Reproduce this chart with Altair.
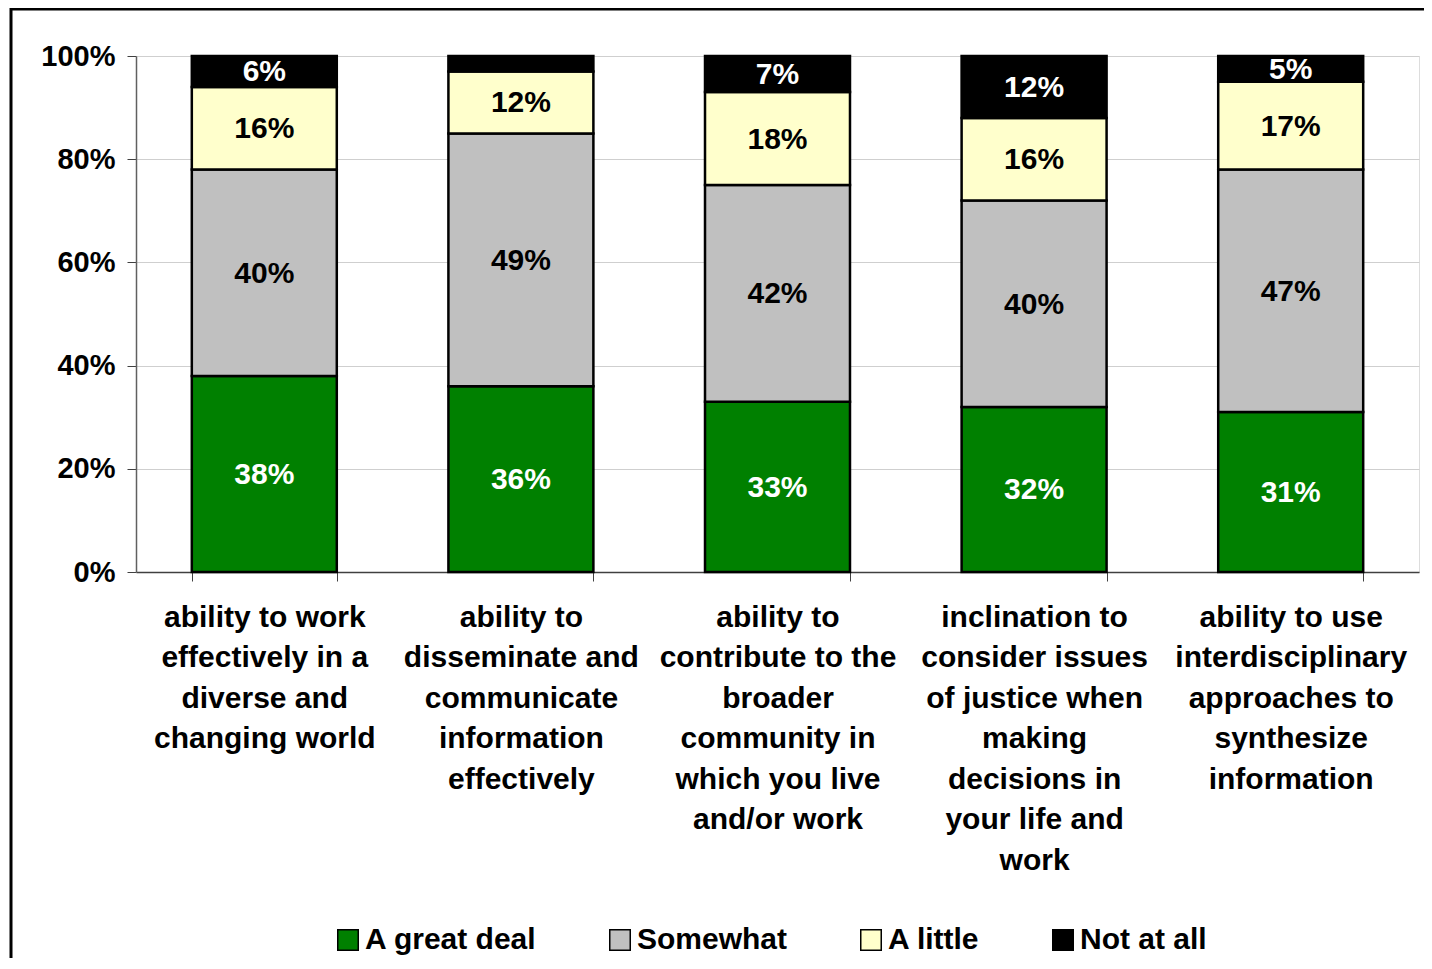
import altair as alt
import pandas as pd

categories = [
    "ability to work|effectively in a|diverse and|changing world",
    "ability to|disseminate and|communicate|information|effectively",
    "ability to|contribute to the|broader|community in|which you live|and/or work",
    "inclination to|consider issues|of justice when|making|decisions in|your life and|work",
    "ability to use|interdisciplinary|approaches to|synthesize|information",
]
responses = ["A great deal", "Somewhat", "A little", "Not at all"]
great_deal = [38, 36, 33, 32, 31]
somewhat = [40, 49, 42, 40, 47]
a_little = [16, 12, 18, 16, 17]
not_at_all = [6, 3, 7, 12, 5]
colors = ["#008000", "#c0c0c0", "#ffffcc", "#000000"]
label_colors = ["white", "black", "black", "white"]

rows = []
for series_i, (resp, vals) in enumerate(zip(responses, [great_deal, somewhat, a_little, not_at_all])):
    for cat, v in zip(categories, vals):
        rows.append({"category": cat, "response": resp, "order": series_i, "value": v,
                     "lcolor": label_colors[series_i]})
df = pd.DataFrame(rows)

FONT = "Liberation Sans"

base = alt.Chart(df).transform_stack(
    stack="value", groupby=["category"], sort=[alt.SortField("order")], as_=["y0", "y1"]
).transform_calculate(mid="(datum.y0 + datum.y1) / 2")

x_enc = alt.X(
    "category:N", sort=categories, title=None,
    scale=alt.Scale(paddingInner=0.435, paddingOuter=0.2175),
    axis=alt.Axis(labelExpr="split(datum.label, '|')", labelAngle=0, labelFontSize=30,
                  labelFont=FONT, labelFontWeight="bold", labelColor="black",
                  labelLineHeight=40.5, labelPadding=21, labelLimit=0, tickBand="extent",
                  tickSize=9, tickColor="#404040", domainColor="#404040", domainWidth=1.5,
                  labelBaseline="top"),
)

bars = base.mark_bar(stroke="black", strokeWidth=2.5, opacity=1).encode(
    x=x_enc,
    y=alt.Y("y0:Q", title=None, scale=alt.Scale(domain=[0, 100], nice=False),
            axis=alt.Axis(values=[0, 20, 40, 60, 80, 100], labelExpr="datum.value + '%'",
                          labelFontSize=29, labelFont=FONT, labelFontWeight="bold",
                          labelColor="black", tickSize=9, tickColor="#404040",
                          domainColor="#606060", domainWidth=1.5, labelPadding=12,
                          gridColor="#cfcfcf", gridWidth=1)),
    y2="y1:Q",
    color=alt.Color("response:N", sort=responses,
                    scale=alt.Scale(domain=responses, range=colors),
                    legend=alt.Legend(title=None, orient="none", legendX=197, legendY=869,
                                      direction="horizontal", symbolType="square",
                                      symbolSize=420, symbolStrokeColor="black",
                                      symbolStrokeWidth=1.5, symbolOpacity=1,
                                      labelFontSize=30, labelFont=FONT, labelFontWeight="bold",
                                      labelColor="black", labelOffset=2, columnPadding=68,
                                      labelLimit=0)),
    order=alt.Order("order:Q"),
)

labels = base.transform_filter("datum.value >= 4").mark_text(
    fontSize=30, font=FONT, fontWeight="bold", baseline="middle", align="center", dy=1
).encode(
    x=alt.X("category:N", sort=categories),
    y=alt.Y("mid:Q"),
    text=alt.Text("label:N"),
    color=alt.Color("lcolor:N", scale=None),
).transform_calculate(label="datum.value + '%'")

frame = alt.Chart(pd.DataFrame({"k": [0]})).mark_rect(
    fill=None, stroke="black", strokeWidth=3, clip=False
).encode(x=alt.value(-125), x2=alt.value(1400), y=alt.value(-47), y2=alt.value(1000))

chart = alt.layer(bars, labels, frame).properties(
    width=1283, height=516,
    padding={"left": 128, "top": 48, "right": 5, "bottom": 386},
    autosize=alt.AutoSizeParams(type="none"),
).configure_view(stroke="#808080", strokeWidth=1.5).configure(background="white")

chart.save("out.html", embed_options={"renderer": "svg", "actions": False})
